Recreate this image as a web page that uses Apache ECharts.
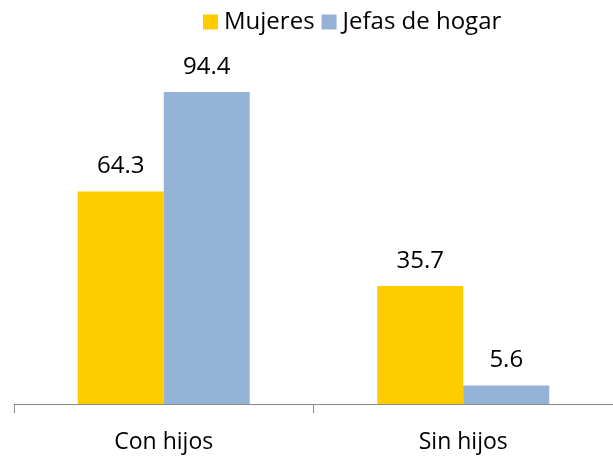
<!DOCTYPE html>
<html>
<head>
<meta charset="utf-8">
<script src="https://cdn.jsdelivr.net/npm/echarts@6/dist/echarts.min.js"></script>
<style>
  html, body { margin: 0; padding: 0; background: #fff; }
  #chart { width: 613px; height: 456px; }
</style>
</head>
<body>
<div id="chart"></div>
<script>
  var categories = ['Con hijos', 'Sin hijos'];
  var mujeres = [64.3, 35.7];
  var jefas = [94.4, 5.6];

  var chart = echarts.init(document.getElementById('chart'));

  var labelStyle = {
    show: true,
    position: 'top',
    distance: 13,
    fontSize: 24,
    color: '#000',
    fontFamily: 'Open Sans'
  };

  var option = {
    animation: false,
    textStyle: { fontFamily: 'Open Sans' },
    legend: {
      top: 5,
      left: 198,
      icon: 'rect',
      itemWidth: 15,
      itemHeight: 15,
      itemGap: 7,
      textStyle: { fontSize: 24, color: '#000', padding: [0, 0, 0, 1] },
      data: ['Mujeres', 'Jefas de hogar']
    },
    grid: {
      top: 73.5,
      left: 14,
      right: 0,
      bottom: 52
    },
    xAxis: {
      type: 'category',
      data: categories,
      axisLine: { lineStyle: { color: '#898989', width: 1 } },
      axisTick: { show: true, length: 9, lineStyle: { color: '#898989' } },
      axisLabel: { fontSize: 23, color: '#000', margin: 27 }
    },
    yAxis: {
      type: 'value',
      min: 0,
      max: 100,
      show: false,
      splitLine: { show: false }
    },
    series: [
      {
        name: 'Mujeres',
        type: 'bar',
        data: mujeres,
        barWidth: 86,
        barGap: '0%',
        itemStyle: { color: '#ffcc00' },
        label: labelStyle
      },
      {
        name: 'Jefas de hogar',
        type: 'bar',
        data: jefas,
        barWidth: 86,
        barGap: '0%',
        itemStyle: { color: '#95b3d7' },
        label: labelStyle
      }
    ]
  };

  chart.setOption(option);
</script>
</body>
</html>
